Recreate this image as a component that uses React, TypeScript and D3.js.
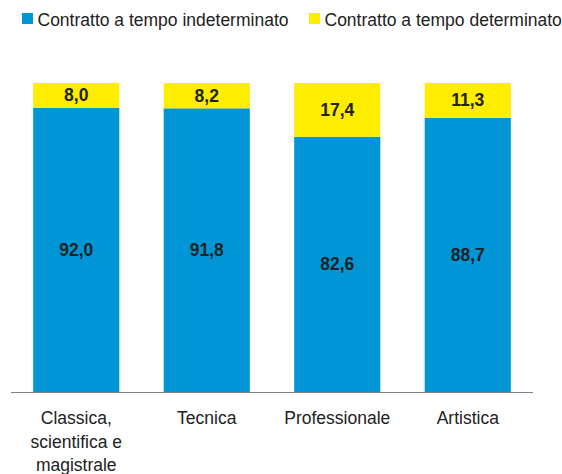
import React from "react";
import * as d3 from "d3";

const categories = ["Classica, scientifica e magistrale", "Tecnica", "Professionale", "Artistica"];
const categoryLines = [["Classica,", "scientifica e", "magistrale"], ["Tecnica"], ["Professionale"], ["Artistica"]];
const indeterminato = [92.0, 91.8, 82.6, 88.7];
const determinato = [8.0, 8.2, 17.4, 11.3];
const seriesNames = ["Contratto a tempo indeterminato", "Contratto a tempo determinato"];
const colors = ["#0096D6", "#FFED00"];

const fmt = (v: number) => v.toFixed(1).replace(".", ",");

export default function App() {
  const W = 562, H = 474;
  const x = d3.scaleBand<string>().domain(categories).range([11, 533]).paddingInner(0.34).paddingOuter(0.17);
  const y = d3.scaleLinear().domain([0, 100]).range([392, 83]);
  const font = "Arial, 'Liberation Sans', sans-serif";
  const fs = 17.5;
  return (
    <svg width={W} height={H} style={{ position: "absolute", left: 0, top: 0 }} fontFamily={font}>
      <g>
        <rect x={22} y={13} width={11} height={11} fill={colors[0]} />
        <text x={37.5} y={26} fontSize={fs} fill="#222">{seriesNames[0]}</text>
        <rect x={309} y={13} width={11} height={11} fill={colors[1]} />
        <text x={324.5} y={26} fontSize={fs} fill="#222">{seriesNames[1]}</text>
      </g>
      {categories.map((c, i) => {
        const x0 = x(c)!;
        const bw = x.bandwidth();
        const a = indeterminato[i];
        const b = determinato[i];
        return (
          <g key={c}>
            <rect x={x0} y={y(a)} width={bw} height={y(0) - y(a)} fill={colors[0]} />
            <rect x={x0} y={y(a + b)} width={bw} height={y(a) - y(a + b)} fill={colors[1]} />
            <text x={x0 + bw / 2} y={(y(0) + y(a)) / 2 + 6} textAnchor="middle" fontSize={fs} fontWeight="bold" fill="#222">{fmt(a)}</text>
            <text x={x0 + bw / 2} y={(y(a) + y(a + b)) / 2 + 6} textAnchor="middle" fontSize={fs} fontWeight="bold" fill="#222">{fmt(b)}</text>
            {categoryLines[i].map((l, j) => (
              <text key={j} x={x0 + bw / 2} y={424.3 + j * 23.3} textAnchor="middle" fontSize={fs} fill="#222">{l}</text>
            ))}
          </g>
        );
      })}
      <line x1={11} x2={533} y1={392.5} y2={392.5} stroke="#808080" strokeWidth={1} />
    </svg>
  );
}
